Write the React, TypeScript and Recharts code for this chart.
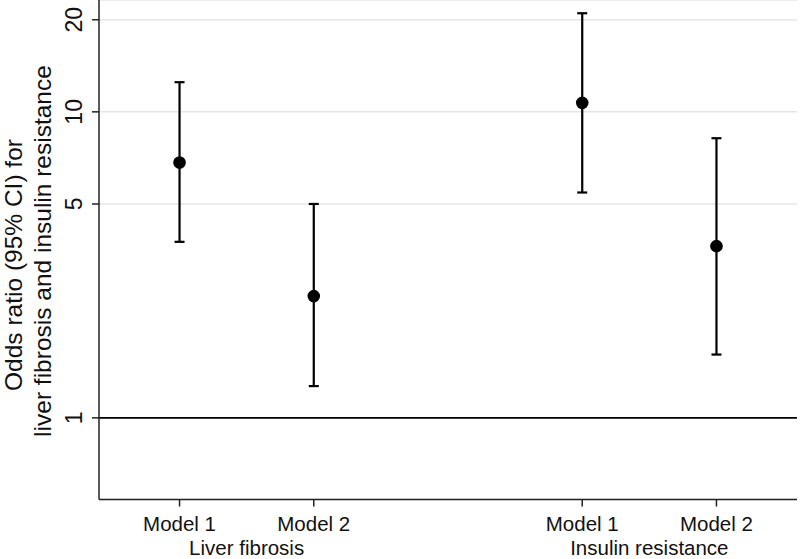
import React from 'react';
import { ComposedChart, Scatter, ErrorBar, XAxis, YAxis, CartesianGrid, ReferenceLine } from 'recharts';

const models = ['Model 1', 'Model 2', 'Model 1', 'Model 2'];
const groups = ['Liver fibrosis', 'Liver fibrosis', 'Insulin resistance', 'Insulin resistance'];
const positions = [1, 2, 4, 5];
const oddsRatio = [6.83, 2.5, 10.7, 3.64];
const lowerCI = [3.76, 1.27, 5.45, 1.61];
const upperCI = [12.5, 5.0, 21.0, 8.2];
const yTicks = [1, 5, 10, 20];
const groupNames = ['Liver fibrosis', 'Insulin resistance'];
const yLabelLines = ['Odds ratio (95% CI) for', 'liver fibrosis and insulin resistance'];

const FONT = '"Liberation Sans", Arial, sans-serif';
const TEXT = '#111';

const data = positions.map((x, i) => ({
  x,
  or: oddsRatio[i],
  err: [oddsRatio[i] - lowerCI[i], upperCI[i] - oddsRatio[i]],
}));

const groupPositions = groupNames.map((g) => {
  const ps = positions.filter((_, i) => groups[i] === g);
  return ps.reduce((a, b) => a + b, 0) / ps.length;
});

const ModelTick = (props: any) => {
  const { x, y, payload } = props;
  const idx = positions.indexOf(payload.value);
  return (
    <text x={x} y={y + 22.5} textAnchor="middle" fontSize={20.5} fontFamily={FONT} fill={TEXT}>
      {idx >= 0 ? models[idx] : ''}
    </text>
  );
};

const GroupTick = (props: any) => {
  const { x, y, payload } = props;
  const idx = groupPositions.indexOf(payload.value);
  return (
    <text x={x} y={y + 22.5} textAnchor="middle" fontSize={20.5} fontFamily={FONT} fill={TEXT}>
      {idx >= 0 ? groupNames[idx] : ''}
    </text>
  );
};

const YTick = (props: any) => {
  const { x, y, payload } = props;
  const bx = x - 8;
  return (
    <text
      x={bx}
      y={y}
      transform={`rotate(-90 ${bx} ${y})`}
      textAnchor="middle"
      fontSize={23}
      fontFamily={FONT}
      fill={TEXT}
    >
      {payload.value}
    </text>
  );
};

const YLabel = () => (
  <g>
    <text x={22} y={265} transform="rotate(-90 22 265)" textAnchor="middle" fontSize={24.5} fontFamily={FONT} fill={TEXT}>
      {yLabelLines[0]}
    </text>
    <text x={50.5} y={251} transform="rotate(-90 50.5 251)" textAnchor="middle" fontSize={24.5} fontFamily={FONT} fill={TEXT}>
      {yLabelLines[1]}
    </text>
  </g>
);

const Dot = (props: any) => <circle cx={props.cx} cy={props.cy} r={6.3} fill="#000" />;

export default function App() {
  return (
    <div style={{ position: 'absolute', left: 0, top: 0, width: 800, height: 559, background: '#fff' }}>
      <ComposedChart width={800} height={559} data={data} margin={{ top: 0, right: 3, bottom: 0, left: 0 }}>
        <CartesianGrid xAxisId="a" vertical={false} stroke="#e6e6e6" strokeWidth={1.5} />
        <XAxis
          xAxisId="a"
          dataKey="x"
          type="number"
          domain={[0.4, 5.6]}
          ticks={positions}
          height={33}
          tickSize={7}
          tickMargin={2}
          stroke="#222"
          strokeWidth={1.5}
          tick={<ModelTick />}
          interval={0}
        />
        <XAxis
          xAxisId="b"
          dataKey="x"
          type="number"
          domain={[0.4, 5.6]}
          ticks={groupPositions}
          height={26.5}
          tickSize={0}
          tickMargin={0}
          axisLine={false}
          tickLine={false}
          tick={<GroupTick />}
          interval={0}
        />
        <YAxis
          type="number"
          scale="log"
          domain={[0.541, 23.2]}
          allowDataOverflow
          ticks={yTicks}
          width={99}
          tickSize={7}
          tickMargin={2}
          stroke="#222"
          strokeWidth={1.5}
          tick={<YTick />}
          interval={0}
          label={<YLabel />}
        />
        <ReferenceLine xAxisId="a" y={1} stroke="#000" strokeWidth={1.8} />
        <Scatter xAxisId="a" dataKey="or" shape={<Dot />} isAnimationActive={false}>
          <ErrorBar dataKey="err" direction="y" width={5} stroke="#000" strokeWidth={2.2} />
        </Scatter>
      </ComposedChart>
    </div>
  );
}
